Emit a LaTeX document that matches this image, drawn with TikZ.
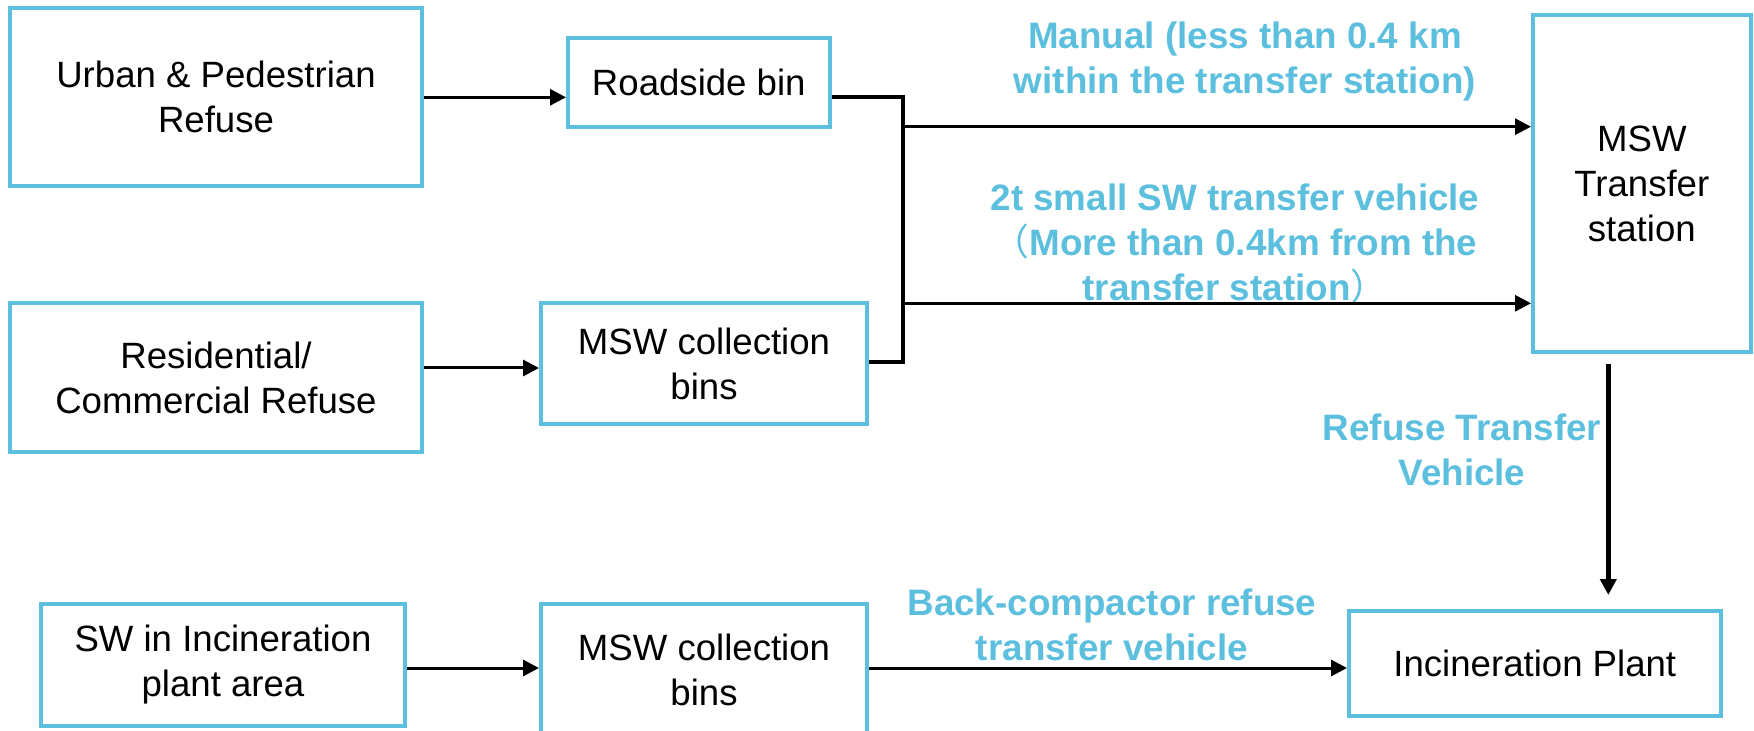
\documentclass[tikz,border=0pt]{standalone}
\usepackage{fontspec}
\setmainfont{Liberation Sans}
\newfontfamily\cjk{Noto Sans CJK SC}
\usetikzlibrary{arrows.meta}
\definecolor{skyb}{RGB}{93,191,222}
\begin{document}
\begin{tikzpicture}[x=0.5pt,y=-0.5pt,
  box/.style={draw=skyb, line width=2pt, align=center, inner sep=0pt, font=\fontsize{18.3}{22.5}\selectfont},
  lbl/.style={text=skyb, align=center, inner sep=0pt, font=\fontsize{18.4}{22.5}\selectfont\bfseries},
  arr/.style={line width=1.5pt, -{Triangle[length=8pt,width=8pt]}},
  ln/.style={line width=2.15pt, line join=miter}]
\useasboundingbox (0,0) rectangle (1754,731);
% boxes
\node[box, minimum width=205.9pt, minimum height=89pt] (ub) at (216,97.3) {Urban \& Pedestrian\\Refuse};
\node[box, minimum width=130.8pt, minimum height=44.5pt] (rb) at (698.8,82.8) {Roadside bin};
\node[box, minimum width=205.9pt, minimum height=74.5pt] (rs) at (216,377.5) {Residential/\\Commercial Refuse};
\node[box, minimum width=163pt, minimum height=60.5pt] (b1) at (704,363.5) {MSW collection\\bins};
\node[box, minimum width=108.8pt, minimum height=168.7pt] (ts) at (1641.8,183.7) {MSW\\Transfer\\station};
\node[box, minimum width=182pt, minimum height=61pt] (sw) at (223,665) {SW in Incineration\\plant area};
\node[box, minimum width=163pt, minimum height=65.5pt] (b2) at (704,669.5) {MSW collection\\bins};
\node[box, minimum width=185.8pt, minimum height=52.5pt] (ip) at (1534.8,663.5) {Incineration Plant};
% labels
\node[lbl] (l1) at (1245,61.5) {Manual (less than 0.4 km\\within the transfer station)};
\node[lbl] (l2) at (1235,243.5) {2t small SW transfer vehicle\\{\cjk\mdseries （}More than 0.4km from the\\transfer station{\cjk\mdseries ）}};
\node[lbl] (l3) at (1462,450.2) {Refuse Transfer\\Vehicle};
\node[lbl] (l4) at (1112,624.6) {Back-compactor refuse\\transfer vehicle};
% helper coordinates
\coordinate (j1) at (903,97.3);
\coordinate (j2) at (903,362.3);
\coordinate (ja) at (903,126.7);
\coordinate (jb) at (903,303.3);
\coordinate (ya) at (0,368);
\coordinate (yb) at (0,668);
\coordinate (dx) at (1608.3,0);
% connectors
\draw[arr] (ub.east |- j1) -- (rb.west |- j1);
\draw[ln] (rb.east |- j1) -- (j1) -- (j2) -- (b1.east |- j2);
\draw[arr] (ja) -- (ts.west |- ja);
\draw[arr] (jb) -- (ts.west |- jb);
\draw[arr] (rs.east |- ya) -- (b1.west |- ya);
\draw[arr] (sw.east |- yb) -- (b2.west |- yb);
\draw[arr] (b2.east |- yb) -- (ip.west |- yb);
\draw[arr, line width=2.2pt, -{Triangle[length=8pt,width=8pt]}, shorten <=5pt, shorten >=7pt] (ts.south -| dx) -- (ip.north -| dx);
\end{tikzpicture}
\end{document}
